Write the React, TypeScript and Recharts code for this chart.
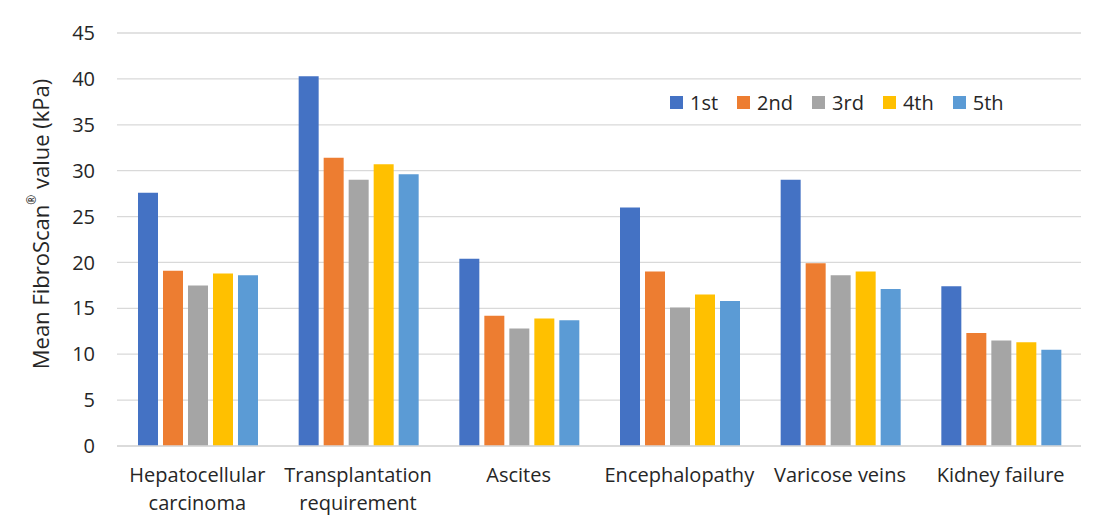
import { BarChart, Bar, XAxis, YAxis, CartesianGrid } from 'recharts';

const categories = [
    'Hepatocellular carcinoma',
    'Transplantation requirement',
    'Ascites',
    'Encephalopathy',
    'Varicose veins',
    'Kidney failure',
];

const first = [27.6, 40.3, 20.4, 26.0, 29.0, 17.4];
const second = [19.1, 31.4, 14.2, 19.0, 19.9, 12.3];
const third = [17.5, 29.0, 12.8, 15.1, 18.6, 11.5];
const fourth = [18.8, 30.7, 13.9, 16.5, 19.0, 11.3];
const fifth = [18.6, 29.6, 13.7, 15.8, 17.1, 10.5];

const yTicks = [0, 5, 10, 15, 20, 25, 30, 35, 40, 45];

const series = [
    { key: 'first', name: '1st', color: '#4472C4', values: first },
    { key: 'second', name: '2nd', color: '#ED7D31', values: second },
    { key: 'third', name: '3rd', color: '#A5A5A5', values: third },
    { key: 'fourth', name: '4th', color: '#FFC000', values: fourth },
    { key: 'fifth', name: '5th', color: '#5B9BD5', values: fifth },
];

const data = categories.map((name, i) => {
    const row: Record<string, any> = { name };
    series.forEach((s) => { row[s.key] = s.values[i]; });
    return row;
});

const FONT = '"Open Sans", sans-serif';
const TEXT = '#262626';
const FS = 20;

// long names go on two lines, short ones stay on one
const CategoryTick = ({ x, y, payload }: any) => {
    const label: string = payload.value;
    const lines = label.length > 16 ? label.split(' ') : [label];
    return (
        <text x={x} y={y} textAnchor="middle" fill={TEXT} fontSize={FS} fontFamily={FONT}>
            {lines.map((line, i) => (
                <tspan key={i} x={x} dy={i === 0 ? 28 : 28}>{line}</tspan>
            ))}
        </text>
    );
};

const LegendBox = () => (
    <div
        style={{
            position: 'absolute', top: 82, left: 662, height: 24,
            display: 'flex', alignItems: 'center', fontFamily: FONT, fontSize: FS, color: TEXT,
        }}
    >
        {series.map((s) => (
            <div key={s.key} style={{ display: 'flex', alignItems: 'center', marginRight: 19 }}>
                <div style={{ width: 13, height: 13, background: s.color, marginRight: 7 }} />
                <span>{s.name}</span>
            </div>
        ))}
    </div>
);

export default function App() {
    return (
        <div
            style={{
                position: 'relative', width: 1088, height: 530, border: '1px solid #d9d9d9',
                marginLeft: -1, marginTop: -1, background: '#fff',
            }}
        >
            <BarChart
                width={1088}
                height={516}
                data={data}
                margin={{ top: 25, right: 15, left: 49, bottom: 18 }}
                barGap={5}
                barCategoryGap={21}
            >
                <CartesianGrid vertical={false} stroke="#d9d9d9" strokeWidth={1.3} />
                <XAxis
                    dataKey="name"
                    height={60}
                    tick={<CategoryTick />}
                    tickLine={false}
                    axisLine={{ stroke: '#d9d9d9', strokeWidth: 1.3 }}
                    interval={0}
                />
                <YAxis
                    width={60}
                    domain={[0, 45]}
                    ticks={yTicks}
                    tickLine={false}
                    axisLine={false}
                    tickSize={6}
                    tickMargin={16}
                    tick={{ fill: TEXT, fontSize: FS, fontFamily: FONT }}
                />
                {series.map((s) => (
                    <Bar key={s.key} dataKey={s.key} name={s.name} fill={s.color} isAnimationActive={false} />
                ))}
                <text
                    transform="translate(32, 216) rotate(-90)"
                    textAnchor="middle"
                    dominantBaseline="central"
                    fill={TEXT}
                    fontSize={22}
                    fontFamily={FONT}
                >
                    Mean FibroScan<tspan fontSize={12} dy={-9}>®</tspan><tspan dy={9}> value (kPa)</tspan>
                </text>
            </BarChart>
            <LegendBox />
        </div>
    );
}
